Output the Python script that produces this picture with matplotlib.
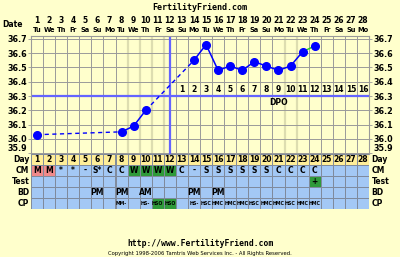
import matplotlib
matplotlib.use("Agg")
import matplotlib.pyplot as plt
from matplotlib.patches import Rectangle
from matplotlib.transforms import blended_transform_factory

# ---- data ----
days = list(range(1, 29))
weekdays = ["Tu", "We", "Th", "Fr", "Sa", "Su", "Mo"] * 4
temp_days = [1, 8, 9, 10, 14, 15, 16, 17, 18, 19, 20, 21, 22, 23, 24]
temps = [36.03, 36.05, 36.09, 36.20, 36.55, 36.66, 36.48, 36.51, 36.48,
         36.54, 36.51, 36.48, 36.51, 36.61, 36.65]
coverline = 36.3
ovulation_day = 12
dpo = list(range(1, 17))  # days 13..28

cm = ["M", "M", "*", "*", "-", "S*", "C", "C", "W", "W", "W", "W", "C", "-",
      "S", "S", "S", "S", "S", "S", "C", "C", "C", "C", "", "", "", ""]
test = [""] * 23 + ["+"] + [""] * 4
bd = ["", "", "", "", "", "PM", "", "PM", "", "AM", "", "", "", "PM",
      "", "PM", "", "", "", "", "", "", "", "", "", "", "", ""]
cp = ["", "", "", "", "", "", "", "MM-", "", "HS-", "HSO", "HSO", "", "HS-",
      "HSC", "HMC", "HMC", "HMC", "HSC", "HMC", "HMC", "HSC", "HMC", "HMC",
      "", "", "", ""]
row_names = ["Day", "CM", "Test", "BD", "CP"]

BG = "#ffffcc"
BLUE_CELL = "#a3c8f5"
DAYROW = "#ffee99"
GRID = "#9a9a9a"
LINE = "#6464ff"

plt.rcParams['font.family'] = "DejaVu Sans"

fig = plt.figure(figsize=(4, 2.57), dpi=100)
fig.patch.set_facecolor(BG)

# temperature panel
ax = fig.add_axes([31/400, 1-154/257, 338/400, 118/257])
ax.set_facecolor(BG)
ax.set_xlim(0.5, 28.5)
ax.set_ylim(35.895, 36.72)

yt = [35.9, 36.0, 36.1, 36.2, 36.3, 36.4, 36.5, 36.6, 36.7]
ax.set_yticks(yt)
ax.set_yticklabels([f"{v:.1f}" for v in yt])
ax.set_xticks([])
ax.tick_params(axis='y', left=True, right=True, labelleft=True, labelright=True,
               length=2, width=0.6, color=GRID, labelsize=5.8, pad=1)
for lab in ax.get_yticklabels():
    lab.set_fontweight('bold')
    if lab.get_text() == "35.9":
        lab.set_va('bottom')
ax.grid(axis='y', color=GRID, lw=0.7)
light = [8, 9, 10, 11, 21, 22]
for k in range(1, 28):
    if k in light:
        ax.axvline(k + 0.5, color="#ddddb0", lw=1.6, zorder=0.5)
    else:
        ax.axvline(k + 0.5, color=GRID, lw=0.7, zorder=0.5)
for s in ax.spines.values():
    s.set_color(GRID)
    s.set_linewidth(0.8)

# coverline and ovulation line
ax.axhline(coverline, color=LINE, lw=1.6, zorder=2)
ax.axvline(ovulation_day, color=LINE, lw=1.6, zorder=2)

# temperature line segments
for i in range(len(temp_days) - 1):
    x0, x1 = temp_days[i], temp_days[i + 1]
    y0, y1 = temps[i], temps[i + 1]
    if i == len(temp_days) - 2:
        ax.plot([x0, x1], [y0, y1], color="#22cc22", lw=1.0, zorder=3)
    elif x1 - x0 > 1:
        ax.plot([x0, x1], [y0, y1], color="#0000ff", lw=1.0, ls=(0, (3, 2.5)), zorder=3)
    else:
        ax.plot([x0, x1], [y0, y1], color="#0000ff", lw=1.1, zorder=3)
ax.plot(temp_days, temps, 'o', color="#0000ff", ms=5.5, zorder=4)

# DPO numbering
for i, n in enumerate(dpo):
    ax.text(ovulation_day + 1 + i, coverline + 0.043, str(n), ha='center', va='center',
            fontsize=5.5, fontweight='bold')
ax.text(21, coverline - 0.045, "DPO", ha='center', va='center', fontsize=5.5,
        fontweight='bold')

# date header
tr = blended_transform_factory(ax.transData, ax.transAxes)
for d, w in zip(days, weekdays):
    ax.text(d, 1.135, str(d), transform=tr, ha='center', va='center', fontsize=5.5,
            fontweight='bold', clip_on=False)
    ax.text(d, 1.055, w, transform=tr, ha='center', va='center', fontsize=4.8,
            fontweight='bold', clip_on=False)
ax.text(-0.15, 1.095, "Date", transform=tr, ha='right', va='center', fontsize=5.5,
        fontweight='bold', clip_on=False)

# observation table
tb = fig.add_axes([31/400, 1-209/257, 338/400, 55/257])
tb.set_xlim(0.5, 28.5)
tb.set_ylim(5, 0)
tb.axis('off')

special = {"M": "#f08a8a", "W": "#2f9a3a", "HSO": "#2f9a3a", "+": "#2f9a3a"}
for r, name in enumerate(row_names):
    vals = [str(d) for d in days] if r == 0 else [cm, test, bd, cp][r - 1]
    for d, v in zip(days, vals):
        fc = DAYROW if r == 0 else special.get(v, BLUE_CELL)
        tb.add_patch(Rectangle((d - 0.5, r), 1, 1, facecolor=fc,
                               edgecolor="#7f8a9c", lw=0.7))
        if v:
            fs = 3.4 if r == 4 else 5.5
            tb.text(d, r + 0.52, v, ha='center', va='center', fontsize=fs,
                    fontweight='bold', color='black')
    tb.text(0.35, r + 0.5, name, ha='right', va='center', fontsize=5.5,
            fontweight='bold', clip_on=False)
    tb.text(28.7, r + 0.5, name, ha='left', va='center', fontsize=5.5,
            fontweight='bold', clip_on=False)

# titles
fig.text(0.5, 1 - 7/257, "FertilityFriend.com", ha='center', va='center',
         fontsize=6, fontweight='bold', family="DejaVu Sans Mono")
fig.text(0.5, 1 - 243/257, "http://www.FertilityFriend.com", ha='center', va='center',
         fontsize=5.8, fontweight='bold', family="DejaVu Sans Mono")
fig.text(0.5, 1 - 253/257,
         "Copyright 1998-2006 Tamtris Web Services Inc. - All Rights Reserved.",
         ha='center', va='center', fontsize=3.8)

fig.savefig("out.png", dpi=100, facecolor=BG)
